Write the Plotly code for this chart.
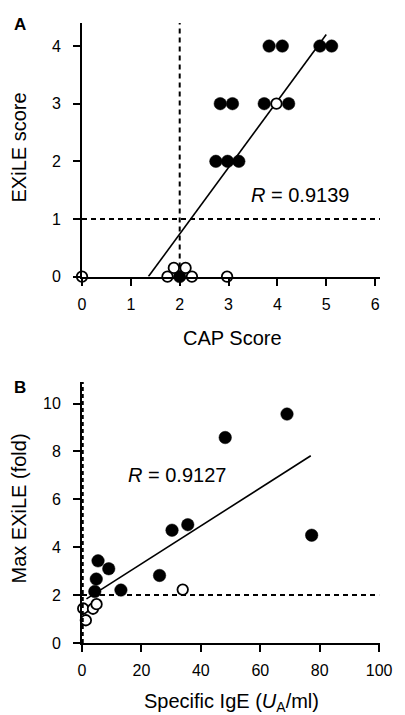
import plotly.graph_objects as go
from plotly.subplots import make_subplots

# Panel A data
a_fill_x = [3.83, 4.10, 4.87, 5.11, 2.83, 3.08, 3.73, 4.23, 2.74, 2.98, 3.21, 2.00]
a_fill_y = [4, 4, 4, 4, 3, 3, 3, 3, 2, 2, 2, 0]
a_open_x = [0.00, 1.75, 1.88, 2.12, 2.25, 2.97, 3.98]
a_open_y = [0, 0, 0.15, 0.15, 0, 0, 3]
a_fit_x = [1.36, 5.00]
a_fit_y = [0.0, 4.20]
a_xticks = [0, 1, 2, 3, 4, 5, 6]
a_yticks = [0, 1, 2, 3, 4]

# Panel B data
b_fill_x = [69.0, 48.2, 77.3, 35.6, 30.3, 26.1, 13.1, 9.0, 5.4, 4.8, 4.3]
b_fill_y = [9.56, 8.58, 4.50, 4.94, 4.71, 2.82, 2.21, 3.10, 3.43, 2.67, 2.15]
b_open_x = [33.9, 0.4, 1.3, 3.7, 4.9]
b_open_y = [2.23, 1.44, 0.95, 1.43, 1.62]
b_fit_x = [1.5, 77.0]
b_fit_y = [1.84, 7.82]
b_xticks = [0, 20, 40, 60, 80, 100]
b_yticks = [0, 2, 4, 6, 8, 10]

FONT = "Liberation Sans, Arial, Helvetica, sans-serif"

fig = make_subplots(rows=2, cols=1)

def add_panel(row, fx, fy, ox, oy, lx, ly):
    fig.add_trace(go.Scatter(x=lx, y=ly, mode="lines",
                             line=dict(color="black", width=1.6),
                             showlegend=False, hoverinfo="skip"), row=row, col=1)
    fig.add_trace(go.Scatter(x=fx, y=fy, mode="markers", cliponaxis=False,
                             marker=dict(size=12.5, color="black",
                                         line=dict(color="black", width=0.5)),
                             showlegend=False), row=row, col=1)
    fig.add_trace(go.Scatter(x=ox, y=oy, mode="markers", cliponaxis=False,
                             marker=dict(size=10.5, color="white",
                                         line=dict(color="black", width=1.8)),
                             showlegend=False), row=row, col=1)

add_panel(1, a_fill_x, a_fill_y, a_open_x, a_open_y, a_fit_x, a_fit_y)
add_panel(2, b_fill_x, b_fill_y, b_open_x, b_open_y, b_fit_x, b_fit_y)

axis_common = dict(showgrid=False, zeroline=False, showline=True,
                   linecolor="black", linewidth=2, ticks="outside",
                   ticklen=7, tickwidth=2, tickcolor="black",
                   tickfont=dict(family=FONT, size=16, color="black"))

fig.update_xaxes(axis_common, row=1, col=1, range=[0, 6.1],
                 tickvals=a_xticks, ticklabelstandoff=5)
fig.update_yaxes(axis_common, row=1, col=1, range=[0, 4.4],
                 tickvals=a_yticks, ticklabelstandoff=9)
fig.update_xaxes(axis_common, row=2, col=1, range=[0, 100.3],
                 tickvals=b_xticks, ticklabelstandoff=5)
fig.update_yaxes(axis_common, row=2, col=1, range=[0, 10.9],
                 tickvals=b_yticks, ticklabelstandoff=9)

fig.update_layout(
    width=405, height=715,
    margin=dict(l=82, r=18, t=23, b=72),
    paper_bgcolor="white", plot_bgcolor="white",
    font=dict(family=FONT, color="black"),
    xaxis=dict(domain=[0, 1]), xaxis2=dict(domain=[0, 1]),
    yaxis=dict(domain=[0.591, 1.0]), yaxis2=dict(domain=[0.0, 0.421]),
)

dash = dict(color="black", width=2, dash="5px,4px")
fig.add_shape(type="line", xref="x", yref="y", x0=0, x1=6.1, y0=1, y1=1, line=dash)
fig.add_shape(type="line", xref="x", yref="y", x0=2, x1=2, y0=0, y1=4.4, line=dash)
fig.add_shape(type="line", xref="x2", yref="y2", x0=0, x1=100, y0=2, y1=2, line=dash)
fig.add_shape(type="line", xref="x2", yref="y2", x0=0, x1=0, y0=0, y1=10.9,
              line=dict(color="black", width=3.5, dash="4px,3px"))

W = 305.0  # plot width in px
H = 620.0  # plot height in px

def px_to_paper_x(p):
    return (p - 82) / W

def px_to_paper_y(p):
    return (643 - p) / H

ann = [
    dict(text="<b>A</b>", x=px_to_paper_x(19), y=px_to_paper_y(25), size=17),
    dict(text="<b>B</b>", x=px_to_paper_x(19), y=px_to_paper_y(387), size=17),
    dict(text="CAP Score", x=px_to_paper_x(236), y=px_to_paper_y(338), size=20),
    dict(text="Specific IgE (<i>U</i><sub>A</sub>/ml)", x=px_to_paper_x(235),
         y=px_to_paper_y(702), size=20),
]
for a in ann:
    fig.add_annotation(text=a["text"], x=a["x"], y=a["y"], xref="paper", yref="paper",
                       showarrow=False, xanchor="center", yanchor="middle",
                       font=dict(family=FONT, size=a["size"], color="black"))

fig.add_annotation(text="EXiLE score", x=px_to_paper_x(18), y=px_to_paper_y(147),
                   xref="paper", yref="paper", showarrow=False, textangle=-90,
                   xanchor="center", yanchor="middle",
                   font=dict(family=FONT, size=20, color="black"))
fig.add_annotation(text="Max EXiLE (fold)", x=px_to_paper_x(18), y=px_to_paper_y(508),
                   xref="paper", yref="paper", showarrow=False, textangle=-90,
                   xanchor="center", yanchor="middle",
                   font=dict(family=FONT, size=20, color="black"))

fig.add_annotation(text="<i>R</i> = 0.9139", x=4.46, y=1.41, xref="x", yref="y",
                   showarrow=False, font=dict(family=FONT, size=20, color="black"))
fig.add_annotation(text="<i>R</i> = 0.9127", x=32, y=7.0, xref="x2", yref="y2",
                   showarrow=False, font=dict(family=FONT, size=20, color="black"))

fig.write_html("out.html")
